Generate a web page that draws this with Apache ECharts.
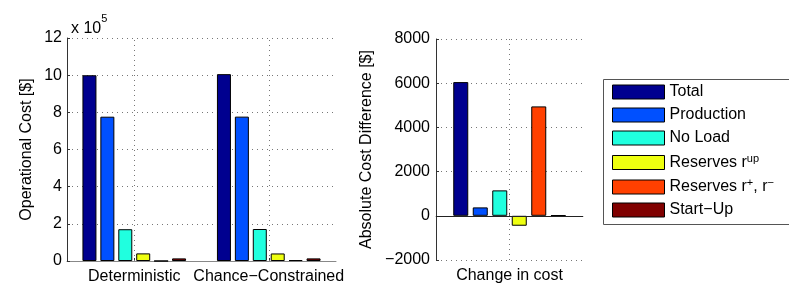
<!DOCTYPE html>
<html>
<head>
<meta charset="utf-8">
<script src="https://cdn.jsdelivr.net/npm/echarts@6/dist/echarts.min.js"></script>
<style>html,body{margin:0;padding:0;background:#fff}#c{width:789px;height:294px}</style>
</head>
<body>
<div id="c"></div>
<script>
// ---- data ----
const categories = ['Deterministic', 'Chance\u2212Constrained'];
const diffCategories = ['Change in cost'];
const seriesNames = ['Total', 'Production', 'No Load', 'Reserves r^up', 'Reserves r^+, r^-', 'Start\u2212Up'];
const totalCost = [999500, 1005550];
const productionCost = [776500, 776880];
const noLoadCost = [171000, 172150];
const reservesUpCost = [41000, 40550];
const reservesPMCost = [0, 4950];
const startUpCost = [14000, 14020];
const costDifference = [6050, 380, 1150, -450, 4950, 20];
const leftTicks = [0, 2, 4, 6, 8, 10, 12];
const rightTicks = [-2000, 0, 2000, 4000, 6000, 8000];
const colors = ['#00008F', '#0050FF', '#20FFDF', '#EEFF10', '#FF4000', '#800000'];

const FONT = 'Liberation Sans, Arial, Helvetica, sans-serif';
const leftValues = [totalCost, productionCost, noLoadCost, reservesUpCost, reservesPMCost, startUpCost];
const gridDots = { type: [1, 4], color: '#777', width: 1 };

const series = [];
// helper series (no visible data) carrying the category grid lines / zero baseline
series.push({
  type: 'line', xAxisIndex: 0, yAxisIndex: 0, data: categories.map(() => null),
  showSymbol: false, silent: true, z: 1,
  markLine: { silent: true, symbol: 'none', label: { show: false }, lineStyle: gridDots,
    data: categories.map(c => ({ xAxis: c })) }
});
series.push({
  type: 'line', xAxisIndex: 1, yAxisIndex: 1, data: diffCategories.map(() => null),
  showSymbol: false, silent: true, z: 1,
  markLine: { silent: true, symbol: 'none', label: { show: false },
    data: [
      { xAxis: diffCategories[0], lineStyle: gridDots },
      { yAxis: 0, lineStyle: { type: 'solid', color: '#222', width: 1 } }
    ] }
});
leftValues.forEach((vals, i) => {
  series.push({
    name: seriesNames[i], type: 'bar', xAxisIndex: 0, yAxisIndex: 0,
    data: vals, barWidth: 14, barGap: '28%', z: 3,
    itemStyle: { color: colors[i], borderColor: '#000', borderWidth: 1 },
    silent: true
  });
});
costDifference.forEach((v, i) => {
  series.push({
    name: seriesNames[i], type: 'bar', xAxisIndex: 1, yAxisIndex: 1,
    data: [v], barWidth: 15, barGap: '30%', z: 3,
    itemStyle: { color: colors[i], borderColor: '#000', borderWidth: 1 },
    silent: true
  });
});

const legendRich = {
  n: { fontSize: 16, fontFamily: FONT, color: '#000' },
  s: { fontSize: 11, fontFamily: FONT, color: '#000', verticalAlign: 'top', padding: [0, 0, 8, 0] }
};
function legendFmt(name) {
  if (name === 'Reserves r^up') return '{n|Reserves r}{s|up}';
  if (name === 'Reserves r^+, r^-') return '{n|Reserves r}{s|+}{n|, r}{s|\u2212}';
  return '{n|' + name + '}';
}

const axisLabelStyle = { fontSize: 16, fontFamily: FONT, color: '#000' };

const chart = echarts.init(document.getElementById('c'), null, { renderer: 'canvas' });
chart.setOption({
  animation: false,
  backgroundColor: '#fff',
  title: {
    text: '{a|x 10}{b|5}', left: 66, top: 8,
    textStyle: { fontWeight: 'normal', rich: {
      a: { fontSize: 16, fontFamily: FONT, color: '#000', fontWeight: 'normal', padding: [8, 0, 0, 0] },
      b: { fontSize: 11, fontFamily: FONT, color: '#000', fontWeight: 'normal', verticalAlign: 'top' }
    } }
  },
  grid: [
    { left: 67, top: 38, width: 269, height: 223 },
    { left: 436, top: 39, width: 147, height: 221 }
  ],
  xAxis: [
    { type: 'category', gridIndex: 0, data: categories,
      axisLine: { lineStyle: { color: '#888' } },
      axisTick: { show: true, inside: true, alignWithLabel: true, length: 3, lineStyle: { color: '#333' } },
      axisLabel: Object.assign({ margin: 8, interval: 0, hideOverlap: false }, axisLabelStyle),
      splitLine: { show: false } },
    { type: 'category', gridIndex: 1, data: diffCategories,
      axisLine: { lineStyle: { color: '#888' } },
      axisTick: { show: true, inside: true, alignWithLabel: true, length: 3, lineStyle: { color: '#333' } },
      axisLabel: Object.assign({ margin: 8, interval: 0 }, axisLabelStyle),
      splitLine: { show: false } }
  ],
  yAxis: [
    { type: 'value', gridIndex: 0, min: leftTicks[0] * 1e5, max: leftTicks[leftTicks.length - 1] * 1e5, interval: 2e5,
      name: 'Operational Cost [$]', nameLocation: 'middle', nameGap: 32,
      nameTextStyle: { fontSize: 16, fontFamily: FONT, color: '#000' },
      axisLine: { show: true, lineStyle: { color: '#333' } },
      axisTick: { show: true, inside: true, length: 3, lineStyle: { color: '#333' } },
      axisLabel: Object.assign({ margin: 5, formatter: v => String(Math.round(v / 1e5)) }, axisLabelStyle),
      splitLine: { show: true, lineStyle: gridDots } },
    { type: 'value', gridIndex: 1, min: rightTicks[0], max: rightTicks[rightTicks.length - 1], interval: 2000,
      name: 'Absolute Cost Difference [$]', nameLocation: 'middle', nameGap: 61,
      nameTextStyle: { fontSize: 16, fontFamily: FONT, color: '#000' },
      axisLine: { show: true, lineStyle: { color: '#333' } },
      axisTick: { show: true, inside: true, length: 3, lineStyle: { color: '#333' } },
      axisLabel: Object.assign({ margin: 6, formatter: v => String(v).replace('-', '\u2212') }, axisLabelStyle),
      splitLine: { show: true, lineStyle: gridDots } }
  ],
  legend: {
    data: seriesNames, orient: 'vertical', left: 612, top: 84, padding: 0,
    itemWidth: 52, itemHeight: 14, itemGap: 7, icon: 'rect',
    itemStyle: { borderColor: '#000', borderWidth: 1 },
    formatter: legendFmt,
    textStyle: { rich: legendRich, fontSize: 16, fontFamily: FONT, color: '#000' },
    selectedMode: false
  },
  graphic: [
    { type: 'rect', left: 601, top: 77, shape: { width: 186, height: 145 },
      style: { fill: 'none', stroke: '#555', lineWidth: 1 }, silent: true, z: -1 }
  ],
  series: series
});
</script>
</body>
</html>
